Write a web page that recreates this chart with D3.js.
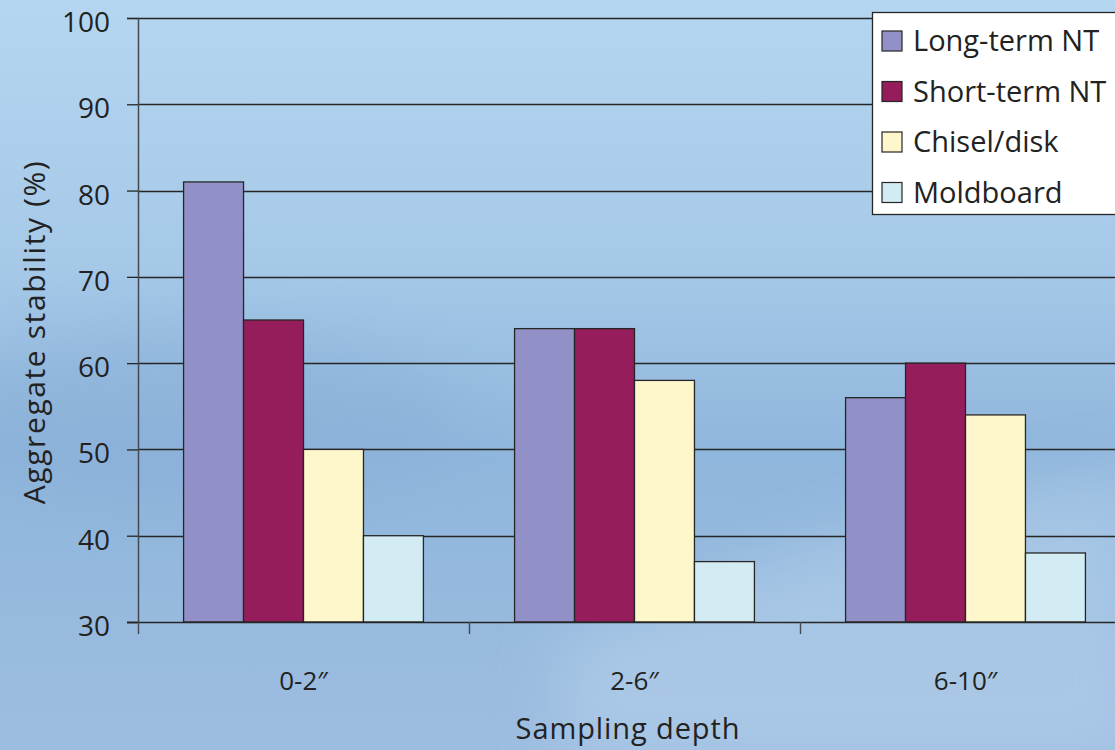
<!DOCTYPE html>
<html>
<head>
<meta charset="utf-8">
<script src="https://cdn.jsdelivr.net/npm/d3@7"></script>
<style>
  html, body { margin: 0; padding: 0; overflow: hidden; }
  svg { display: block; font-family: "Open Sans", "Noto Sans", sans-serif; }
</style>
</head>
<body>
<svg id="chart" width="1115" height="750"></svg>
<script>
// Aggregate stability by tillage system and sampling depth
const depths = ["0-2\u2033", "2-6\u2033", "6-10\u2033"];
const systems = ["Long-term NT", "Short-term NT", "Chisel/disk", "Moldboard"];
const longTermNT  = [81, 64, 56];
const shortTermNT = [65, 64, 60];
const chiselDisk  = [50, 58, 54];
const moldboard   = [40, 37, 38];
const yTicks = [30, 40, 50, 60, 70, 80, 90, 100];
const colors = ["#9191c7", "#951d5c", "#fdf7cb", "#d3ebf2"];

const seriesValues = [longTermNT, shortTermNT, chiselDisk, moldboard];
const rows = depths.map((d, i) => ({
  depth: d,
  values: systems.map((s, j) => ({ system: s, value: seriesValues[j][i] }))
}));

const W = 1115, H = 750;
const svg = d3.select("#chart");

// background wash
const defs = svg.append("defs");
const bg = defs.append("linearGradient").attr("id", "bg")
  .attr("x1", 0).attr("y1", 0).attr("x2", 0).attr("y2", 1);
bg.append("stop").attr("offset", "0%").attr("stop-color", "#b5d6f0");
bg.append("stop").attr("offset", "35%").attr("stop-color", "#a6c9e8");
bg.append("stop").attr("offset", "60%").attr("stop-color", "#8fb6dc");
bg.append("stop").attr("offset", "100%").attr("stop-color", "#9dbde0");
const blur = defs.append("filter").attr("id", "soft").attr("x", "-50%").attr("y", "-50%")
  .attr("width", "200%").attr("height", "200%");
blur.append("feGaussianBlur").attr("stdDeviation", 30);

svg.append("rect").attr("width", W).attr("height", H).attr("fill", "url(#bg)");
svg.append("path")
  .attr("d", "M560,640 C760,560 950,500 1140,470 L1140,760 L560,760 Z")
  .attr("fill", "#b3cfea").attr("opacity", 0.6).attr("filter", "url(#soft)");
svg.append("ellipse").attr("cx", 200).attr("cy", 420).attr("rx", 260).attr("ry", 90)
  .attr("fill", "#88add6").attr("opacity", 0.45).attr("filter", "url(#soft)");

const plotLeft = 138, plotTop = 18, plotBottom = 622, plotRight = 1131;

const y = d3.scaleLinear().domain([30, 100]).range([plotBottom, plotTop]);
const x0 = d3.scaleBand().domain(depths).range([plotLeft, plotRight]).padding(0);
const x1 = d3.scaleBand().domain(systems).range([0, x0.bandwidth()])
  .paddingInner(0).paddingOuter(0.76);
const color = d3.scaleOrdinal().domain(systems).range(colors);

const ink = "#262626";

// horizontal gridlines
svg.append("g").selectAll("line").data(yTicks.slice(1)).join("line")
  .attr("x1", plotLeft).attr("x2", W)
  .attr("y1", d => Math.round(y(d)) + 0.5).attr("y2", d => Math.round(y(d)) + 0.5)
  .attr("stroke", ink).attr("stroke-width", 1.3);

// bars
svg.append("g").selectAll("g").data(rows).join("g")
  .attr("transform", d => `translate(${x0(d.depth)},0)`)
  .selectAll("rect").data(d => d.values).join("rect")
  .attr("x", d => x1(d.system))
  .attr("y", d => y(d.value))
  .attr("width", x1.bandwidth())
  .attr("height", d => y(30) - y(d.value))
  .attr("fill", d => color(d.system))
  .attr("stroke", ink).attr("stroke-width", 1.3);

// y axis
const yAxis = d3.axisLeft(y).tickValues(yTicks).tickSize(11).tickPadding(17);
const gy = svg.append("g").attr("transform", `translate(${plotLeft},0)`).call(yAxis);
gy.select(".domain").attr("stroke", "#444a52").attr("stroke-width", 1.5);
gy.selectAll(".tick line").attr("stroke", ink).attr("stroke-width", 1.3);
gy.selectAll(".tick text").attr("fill", "#222").attr("font-size", 28)
  .attr("dy", "0.48em")
  .attr("font-family", "'Open Sans', sans-serif");

// x axis
const xAxis = d3.axisBottom(x0).tickSize(0).tickPadding(50);
const gx = svg.append("g").attr("transform", `translate(0,${plotBottom})`).call(xAxis);
gx.select(".domain").remove();
gx.selectAll(".tick text").attr("fill", "#222").attr("font-size", 26)
  .attr("font-family", "'Open Sans', sans-serif");
svg.append("line").attr("x1", plotLeft - 11).attr("x2", W)
  .attr("y1", plotBottom + 0.5).attr("y2", plotBottom + 0.5)
  .attr("stroke", ink).attr("stroke-width", 1.4);
svg.append("g").selectAll("line").data(depths).join("line")
  .attr("x1", d => Math.round(x0(d)) + 0.5).attr("x2", d => Math.round(x0(d)) + 0.5)
  .attr("y1", plotBottom).attr("y2", plotBottom + 12)
  .attr("stroke", "#444a52").attr("stroke-width", 1.4);

// axis titles
svg.append("text")
  .attr("transform", `translate(45,332) rotate(-90)`)
  .attr("text-anchor", "middle").attr("font-size", 30).attr("letter-spacing", 1.6)
  .attr("fill", "#222")
  .text("Aggregate stability (%)");
svg.append("text")
  .attr("x", 628).attr("y", 739)
  .attr("text-anchor", "middle").attr("font-size", 29).attr("letter-spacing", 0.9)
  .attr("fill", "#222")
  .text("Sampling depth");

// legend
const lg = svg.append("g").attr("transform", "translate(872,12)");
lg.append("rect").attr("x", 0.5).attr("y", 0.5).attr("width", 260).attr("height", 202)
  .attr("fill", "#ffffff").attr("stroke", ink).attr("stroke-width", 1.3);
const item = lg.selectAll("g").data(systems).join("g")
  .attr("transform", (d, i) => `translate(10,${19 + i * 50.5})`);
item.append("rect").attr("width", 20).attr("height", 20)
  .attr("fill", d => color(d)).attr("stroke", ink).attr("stroke-width", 1.2);
item.append("text").attr("x", 31).attr("y", 10).attr("dy", "0.36em")
  .attr("font-size", 29).attr("fill", "#222").text(d => d);
</script>
</body>
</html>
